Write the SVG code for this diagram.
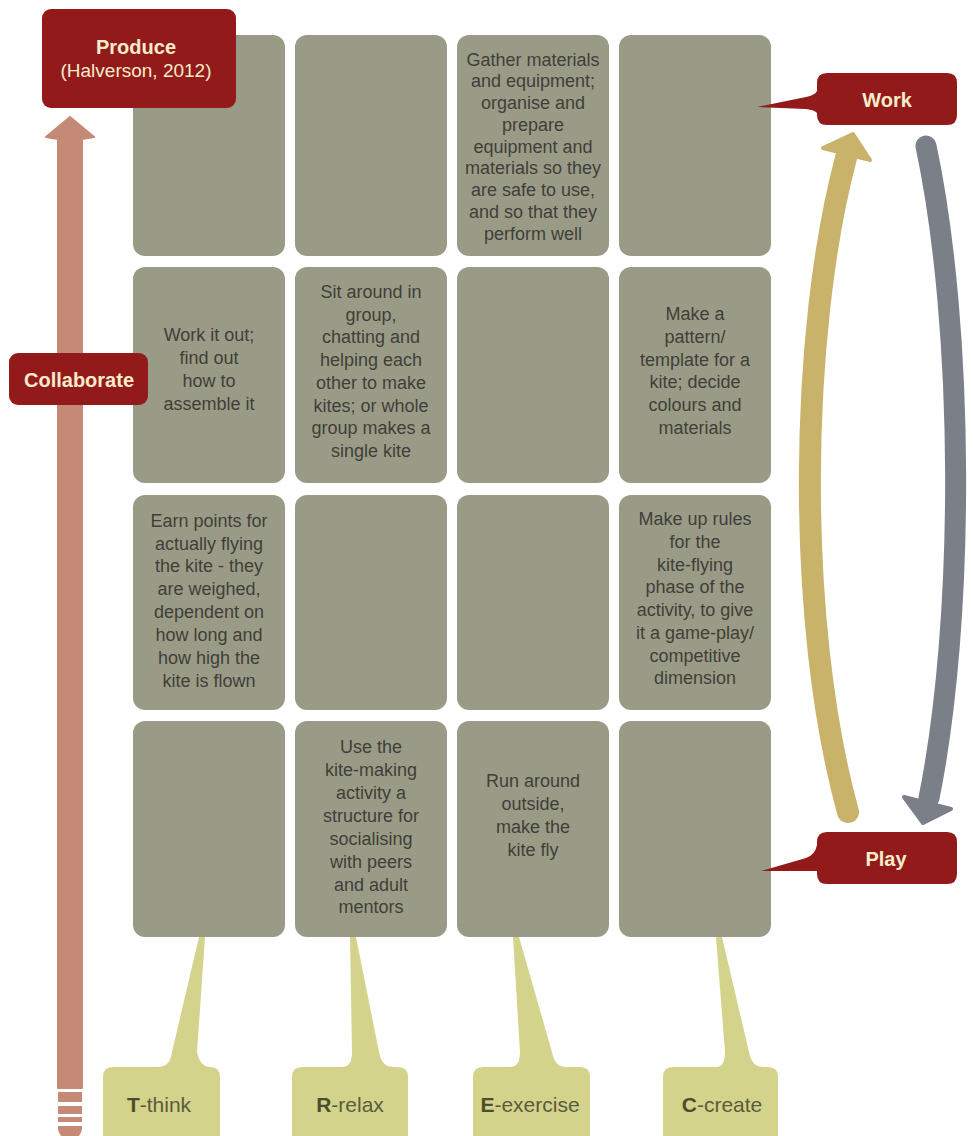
<svg xmlns="http://www.w3.org/2000/svg" width="973" height="1136" viewBox="0 0 973 1136">
<style>
.cell{fill:#9a9b87}
.ct{font-family:"Liberation Sans",Arial,sans-serif;font-size:18px;fill:#3f3f38;text-anchor:middle}
.red{fill:#931a1a}
.rt{font-family:"Liberation Sans",Arial,sans-serif;font-weight:bold;font-size:20px;fill:#f8ecca;text-anchor:middle}
.lab{fill:#d4d38b}
.lt{font-family:"Liberation Sans",Arial,sans-serif;font-size:21px;fill:#5a5c3c;text-anchor:middle}
.lt .b{font-weight:bold;fill:#4b4e2e}
</style>
<rect width="973" height="1136" fill="#ffffff"/>

<g id="connectors">
  <!-- left vertical arrow -->
  <g fill="#c58a76">
    <path d="M70,117 L94,137 L82,139 L82,1088 L58,1088 L58,139 L46,137 Z" stroke="#c58a76" stroke-width="2" stroke-linejoin="round"/>
    <rect x="58" y="1092" width="24" height="10"/>
    <rect x="58" y="1106" width="24" height="8"/>
    <rect x="58" y="1117" width="24" height="5"/>
    <path d="M58,1126 L82,1126 L82,1128 A12,12 0 0 1 58,1128 Z"/>
  </g>
  <!-- gold arrow up -->
  <path d="M848,812 C795,620 800,330 846,158" fill="none" stroke="#c9b36a" stroke-width="22" stroke-linecap="round"/>
  <path d="M853,134 L870,160 L823,148 Z" fill="#c9b36a" stroke="#c9b36a" stroke-width="4" stroke-linejoin="round"/>
  <!-- gray arrow down -->
  <path d="M926,146 C965,330 965,620 929,798" fill="none" stroke="#7b7f88" stroke-width="21" stroke-linecap="round"/>
  <path d="M923,823 L904,797 L951,809 Z" fill="#7b7f88" stroke="#7b7f88" stroke-width="4" stroke-linejoin="round"/>
</g>

<g id="cells">
  <g id="cell-r1c1"><rect class="cell" x="133" y="35" width="152" height="221" rx="12"/></g>
  <g id="cell-r1c2"><rect class="cell" x="295" y="35" width="152" height="221" rx="12"/></g>
  <g id="cell-r1c3"><rect class="cell" x="457" y="35" width="152" height="221" rx="12"/>
    <text class="ct"><tspan x="533" y="66">Gather materials</tspan><tspan x="533" y="87">and equipment;</tspan><tspan x="533" y="109">organise and</tspan><tspan x="533" y="131">prepare</tspan><tspan x="533" y="153">equipment and</tspan><tspan x="533" y="174">materials so they</tspan><tspan x="533" y="196">are safe to use,</tspan><tspan x="533" y="218">and so that they</tspan><tspan x="533" y="240">perform well</tspan></text>
  </g>
  <g id="cell-r1c4"><rect class="cell" x="619" y="35" width="152" height="221" rx="12"/></g>

  <g id="cell-r2c1"><rect class="cell" x="133" y="267" width="152" height="216" rx="12"/>
    <text class="ct"><tspan x="209" y="341">Work it out;</tspan><tspan x="209" y="364">find out</tspan><tspan x="209" y="387">how to</tspan><tspan x="209" y="410">assemble it</tspan></text>
  </g>
  <g id="cell-r2c2"><rect class="cell" x="295" y="267" width="152" height="216" rx="12"/>
    <text class="ct"><tspan x="371" y="298">Sit around in</tspan><tspan x="371" y="321">group,</tspan><tspan x="371" y="343">chatting and</tspan><tspan x="371" y="366">helping each</tspan><tspan x="371" y="389">other to make</tspan><tspan x="371" y="412">kites; or whole</tspan><tspan x="371" y="434">group makes a</tspan><tspan x="371" y="457">single kite</tspan></text>
  </g>
  <g id="cell-r2c3"><rect class="cell" x="457" y="267" width="152" height="216" rx="12"/></g>
  <g id="cell-r2c4"><rect class="cell" x="619" y="267" width="152" height="216" rx="12"/>
    <text class="ct"><tspan x="695" y="320">Make a</tspan><tspan x="695" y="343">pattern/</tspan><tspan x="695" y="366">template for a</tspan><tspan x="695" y="388">kite; decide</tspan><tspan x="695" y="411">colours and</tspan><tspan x="695" y="434">materials</tspan></text>
  </g>

  <g id="cell-r3c1"><rect class="cell" x="133" y="495" width="152" height="215" rx="12"/>
    <text class="ct"><tspan x="209" y="527">Earn points for</tspan><tspan x="209" y="550">actually flying</tspan><tspan x="209" y="572">the kite - they</tspan><tspan x="209" y="595">are weighed,</tspan><tspan x="209" y="618">dependent on</tspan><tspan x="209" y="641">how long and</tspan><tspan x="209" y="664">how high the</tspan><tspan x="209" y="687">kite is flown</tspan></text>
  </g>
  <g id="cell-r3c2"><rect class="cell" x="295" y="495" width="152" height="215" rx="12"/></g>
  <g id="cell-r3c3"><rect class="cell" x="457" y="495" width="152" height="215" rx="12"/></g>
  <g id="cell-r3c4"><rect class="cell" x="619" y="495" width="152" height="215" rx="12"/>
    <text class="ct"><tspan x="695" y="525">Make up rules</tspan><tspan x="695" y="548">for the</tspan><tspan x="695" y="571">kite-flying</tspan><tspan x="695" y="593">phase of the</tspan><tspan x="695" y="616">activity, to give</tspan><tspan x="695" y="639">it a game-play/</tspan><tspan x="695" y="662">competitive</tspan><tspan x="695" y="684">dimension</tspan></text>
  </g>

  <g id="cell-r4c1"><rect class="cell" x="133" y="721" width="152" height="216" rx="12"/></g>
  <g id="cell-r4c2"><rect class="cell" x="295" y="721" width="152" height="216" rx="12"/>
    <text class="ct"><tspan x="371" y="753">Use the</tspan><tspan x="371" y="776">kite-making</tspan><tspan x="371" y="799">activity a</tspan><tspan x="371" y="822">structure for</tspan><tspan x="371" y="845">socialising</tspan><tspan x="371" y="868">with peers</tspan><tspan x="371" y="891">and adult</tspan><tspan x="371" y="913">mentors</tspan></text>
  </g>
  <g id="cell-r4c3"><rect class="cell" x="457" y="721" width="152" height="216" rx="12"/>
    <text class="ct"><tspan x="533" y="787">Run around</tspan><tspan x="533" y="810">outside,</tspan><tspan x="533" y="833">make the</tspan><tspan x="533" y="856">kite fly</tspan></text>
  </g>
  <g id="cell-r4c4"><rect class="cell" x="619" y="721" width="152" height="216" rx="12"/></g>
</g>

<g id="produce">
  <rect class="red" x="42" y="9" width="194" height="99" rx="9"/>
  <text class="rt" x="136" y="54">Produce</text>
  <text class="rt" x="136" y="77" style="font-weight:normal;font-size:19px">(Halverson, 2012)</text>
</g>

<g id="collaborate">
  <rect class="red" x="9" y="353" width="139" height="52" rx="9"/>
  <text class="rt" x="79" y="387">Collaborate</text>
</g>

<g id="work">
  <path class="red" d="M827,73 L947,73 Q957,73 957,83 L957,115 Q957,125 947,125 L827,125 Q817,125 817,115 L817,113 Q815,110 806,109 L757,107 L806,97 Q815,95 817,91 L817,83 Q817,73 827,73 Z"/>
  <text class="rt" x="887" y="107">Work</text>
</g>

<g id="play">
  <path class="red" d="M827,832 L947,832 Q957,832 957,842 L957,874 Q957,884 947,884 L827,884 Q817,884 817,874 L817,871 L761,871 L806,858 Q815,855 817,845 L817,842 Q817,832 827,832 Z"/>
  <text class="rt" x="886" y="866">Play</text>
</g>

<g id="think">
  <path class="lab" d="M199,937 L205,937 L197,1052 C199,1063 205,1067 210,1067 Q220,1067 220,1077 L220,1150 L103,1150 L103,1077 Q103,1067 113,1067 L158,1067 C166,1067 171,1062 172,1052 Z"/>
  <text class="lt" x="159" y="1112"><tspan class="b">T</tspan>-think</text>
</g>
<g id="relax">
  <path class="lab" d="M350,937 L356,937 L379,1052 C381,1063 386,1067 394,1067 L398,1067 Q408,1067 408,1077 L408,1150 L292,1150 L292,1077 Q292,1067 302,1067 L342,1067 C349,1067 352,1062 352,1052 Z"/>
  <text class="lt" x="350" y="1112"><tspan class="b">R</tspan>-relax</text>
</g>
<g id="exercise">
  <path class="lab" d="M513,937 L519,937 L552,1052 C554,1063 559,1067 567,1067 L580,1067 Q590,1067 590,1077 L590,1150 L473,1150 L473,1077 Q473,1067 483,1067 L510,1067 C517,1067 520,1062 520,1052 Z"/>
  <text class="lt" x="530" y="1112"><tspan class="b">E</tspan>-exercise</text>
</g>
<g id="create">
  <path class="lab" d="M716,937 L722,937 L749,1052 C751,1063 756,1067 764,1067 L768,1067 Q778,1067 778,1077 L778,1150 L663,1150 L663,1077 Q663,1067 673,1067 L716,1067 C722,1067 725,1062 725,1052 Z"/>
  <text class="lt" x="722" y="1112"><tspan class="b">C</tspan>-create</text>
</g>
</svg>
